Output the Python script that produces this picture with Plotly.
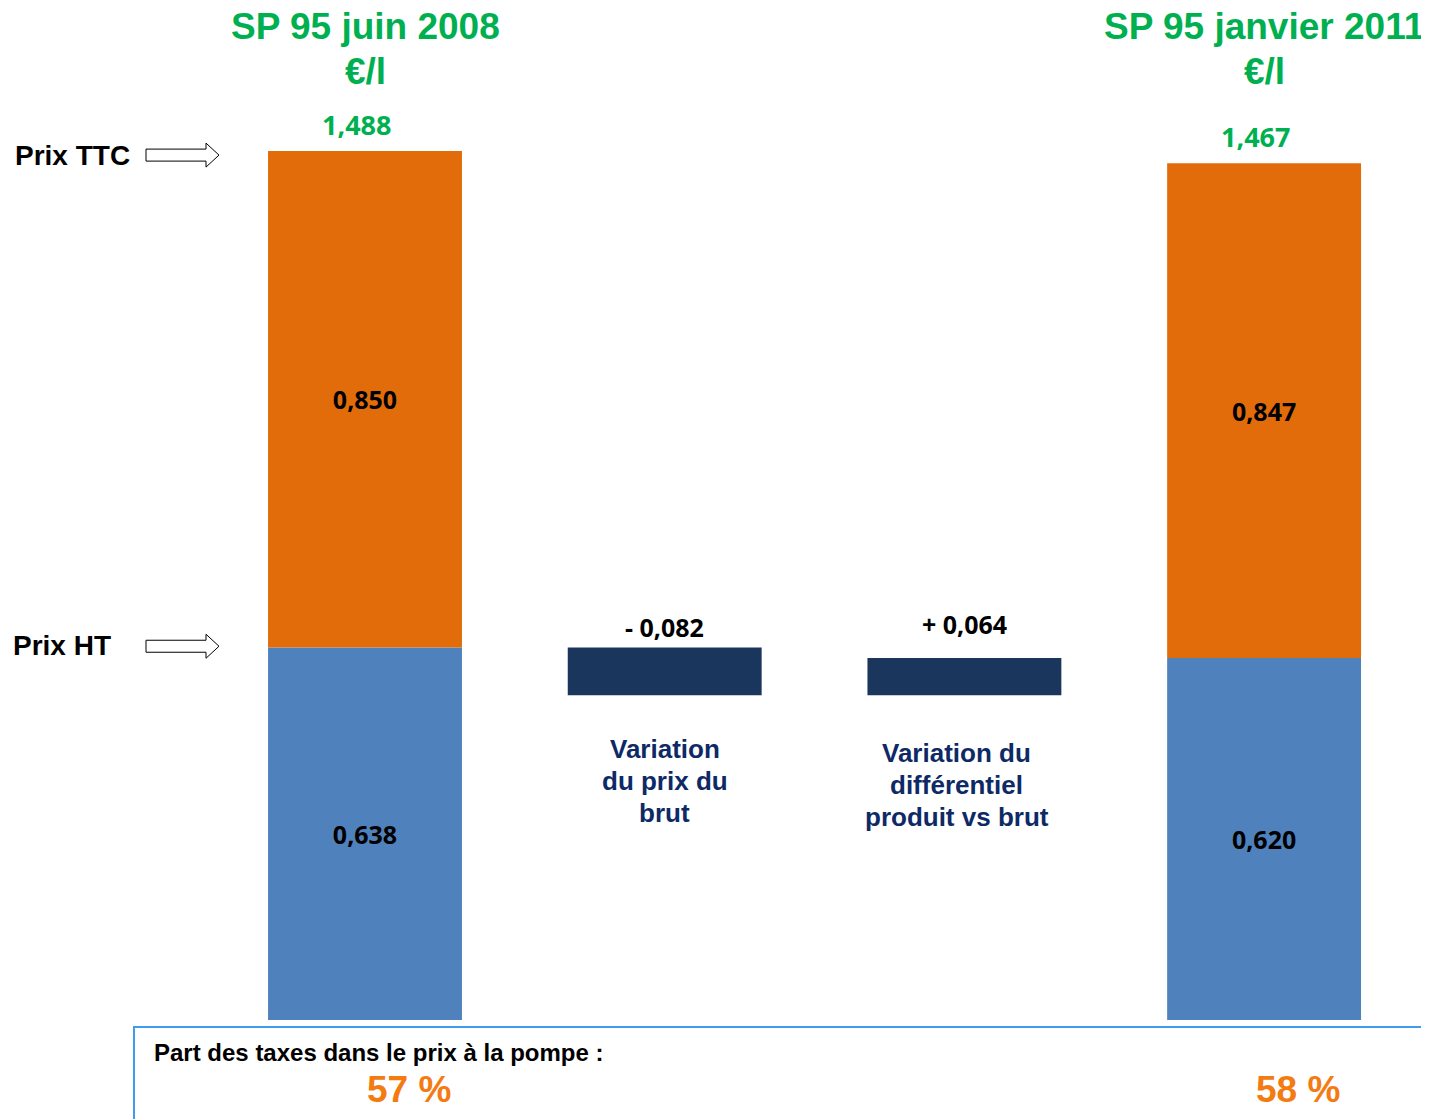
import plotly.graph_objects as go

# --- data ---
periods = ["SP 95 juin 2008", "SP 95 janvier 2011"]
prix_ht = [0.638, 0.620]
taxes = [0.850, 0.847]
variations = [-0.082, 0.064]
variation_labels = ["Variation<br>du prix du<br>brut", "Variation du<br>différentiel<br>produit vs brut"]
part_taxes = ["57 %", "58 %"]

ORANGE = "#E36C0A"
BLUE = "#4F81BD"
NAVY = "#1B365D"
GREEN = "#00B050"
TEXT_NAVY = "#0E2A66"
PCT_ORANGE = "#F47B12"

# page body has an 8px margin, so the figure is offset by that much
OFF = 8
W, H = 1429 - OFF, 1119 - OFF
ARIAL = "Liberation Sans, Arial, sans-serif"
CALIBRI = "Open Sans, sans-serif"


def px_x(p):
    return (p - OFF) / W


def px_y(p):
    return 1 - (p - OFF) / H


def fmt(v):
    return f"{abs(v):.3f}".replace(".", ",")


x_ends = [0, 3]
x_var = [1, 2]
bar_w = 0.647

# waterfall bases for the two variation bars
level = prix_ht[0]
var_base, var_height = [], []
for v in variations:
    new = level + v
    var_base.append(min(level, new))
    var_height.append(abs(v))
    level = new

fig = go.Figure()
fig.add_trace(go.Bar(
    x=x_ends, y=prix_ht, width=bar_w, marker_color=BLUE, marker_line_width=0,
    text=[fmt(v) for v in prix_ht], textposition="inside", insidetextanchor="middle",
    textangle=0, textfont=dict(family=CALIBRI, size=25, color="black", weight="bold"),
))
fig.add_trace(go.Bar(
    x=x_ends, y=taxes, width=bar_w, marker_color=ORANGE, marker_line_width=0,
    text=[fmt(v) for v in taxes], textposition="inside", insidetextanchor="middle",
    textangle=0, textfont=dict(family=CALIBRI, size=25, color="black", weight="bold"),
))
fig.add_trace(go.Bar(
    x=x_var, y=var_height, base=var_base, width=bar_w, marker_color=NAVY,
    marker_line_width=0,
))

annotations = []
# period titles
for x, p in zip(x_ends, periods):
    annotations.append(dict(x=x, y=px_y(26), xref="x", yref="paper", text=p, yanchor="middle",
                            showarrow=False, font=dict(family=ARIAL, size=37, color=GREEN, weight="bold")))
    annotations.append(dict(x=x, y=px_y(72), xref="x", yref="paper", text="€/l", yanchor="middle",
                            showarrow=False, font=dict(family=ARIAL, size=37, color=GREEN, weight="bold")))
# totals
for x, a, b in zip(x_ends, prix_ht, taxes):
    annotations.append(dict(x=x - 0.03, y=a + b, text=fmt(a + b), showarrow=False,
                            yanchor="bottom", yshift=6,
                            font=dict(family=CALIBRI, size=27, color=GREEN, weight="bold")))
# variation values
for x, v, base, h, ys in zip(x_var, variations, var_base, var_height, [1, 15]):
    sign = "-" if v < 0 else "+"
    annotations.append(dict(x=x, y=base + h, text=f"{sign} {fmt(v)}", showarrow=False,
                            yanchor="bottom", yshift=ys,
                            font=dict(family=CALIBRI, size=25, color="black", weight="bold")))
# variation captions, one line at a time
for x, lab, dx, top in zip(x_var, variation_labels, [0, -0.025], [749, 753]):
    for i, line in enumerate(lab.split("<br>")):
        annotations.append(dict(x=x + dx, y=px_y(top + 32 * i), yref="paper", text=line,
                                showarrow=False, yanchor="middle",
                                font=dict(family=ARIAL, size=26, color=TEXT_NAVY, weight="bold")))
# left labels
annotations.append(dict(x=px_x(13), y=prix_ht[0] + taxes[0], xref="paper", text="Prix TTC",
                        showarrow=False, xanchor="left", yanchor="middle", yshift=-4,
                        font=dict(family=ARIAL, size=28, color="black", weight="bold")))
annotations.append(dict(x=px_x(11), y=prix_ht[0], xref="paper", text="Prix HT",
                        showarrow=False, xanchor="left", yanchor="middle", yshift=2,
                        font=dict(family=ARIAL, size=28, color="black", weight="bold")))
# bottom box text
annotations.append(dict(x=px_x(152), y=px_y(1052), xref="paper", yref="paper",
                        text="Part des taxes dans le prix à la pompe :", showarrow=False,
                        xanchor="left", yanchor="middle",
                        font=dict(family=ARIAL, size=24, color="black", weight="bold")))
for xp, t in zip([409, 1298], part_taxes):
    annotations.append(dict(x=px_x(xp), y=px_y(1089), xref="paper", yref="paper", text=t,
                            showarrow=False, xanchor="center", yanchor="middle",
                            font=dict(family=ARIAL, size=37, color=PCT_ORANGE, weight="bold")))

# hollow block arrows (pixel-sized, anchored on price levels)
ax0, ax1, ax2 = 146 - OFF, 206 - OFF, 219 - OFF
arrow_path = (f"M {ax0} -6 L {ax1} -6 L {ax1} -12 L {ax2} 0 L {ax1} 12 "
              f"L {ax1} 6 L {ax0} 6 Z")
shapes = []
for yv, dy in [(prix_ht[0] + taxes[0], -0.007), (prix_ht[0], 0.002)]:
    shapes.append(dict(type="path", path=arrow_path, xref="paper", yref="y",
                       xsizemode="pixel", ysizemode="pixel", xanchor=0, yanchor=yv + dy,
                       line=dict(color="black", width=1), fillcolor="white"))
# bottom box
shapes.append(dict(type="rect", xref="paper", yref="paper", x0=px_x(134), x1=1.02,
                   y0=-0.05, y1=px_y(1027), line=dict(color="#3F9BF0", width=2),
                   fillcolor="rgba(0,0,0,0)"))

px_per_unit = 584.0
y_zero = 1020 - OFF
x_center0 = 365 - OFF
x_step = 299.7
fig.update_layout(
    width=W, height=H, margin=dict(l=0, r=0, t=0, b=0),
    plot_bgcolor="white", paper_bgcolor="white",
    barmode="relative", showlegend=False,
    annotations=annotations, shapes=shapes,
    xaxis=dict(range=[-x_center0 / x_step, (W - x_center0) / x_step], visible=False, fixedrange=True),
    yaxis=dict(range=[(y_zero - H) / px_per_unit, y_zero / px_per_unit],
               visible=False, fixedrange=True),
)

fig.write_html("out.html")
